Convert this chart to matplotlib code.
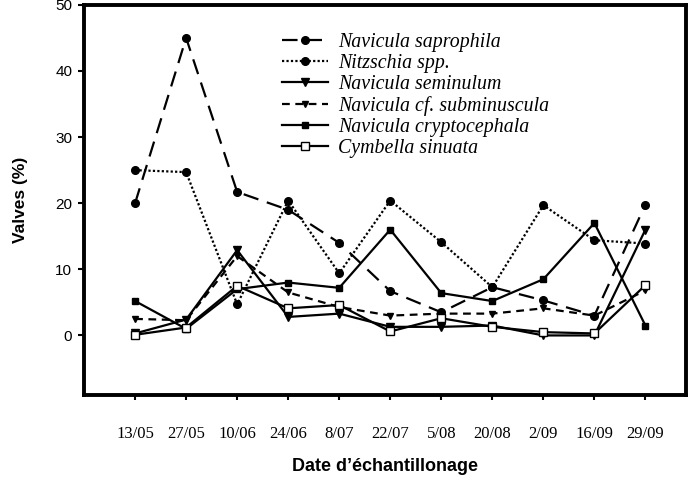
import matplotlib
matplotlib.use("Agg")
import matplotlib.pyplot as plt

# dates d'echantillonage
dates = ["13/05", "27/05", "10/06", "24/06", "8/07", "22/07",
         "5/08", "20/08", "2/09", "16/09", "29/09"]

# pourcentages de valves par espece
saprophila = [20, 45, 21.7, 19, 14, 6.7, 3.5, 7.3, 5.3, 3, 19.8]
nitzschia = [25, 24.7, 4.7, 20.4, 9.4, 20.4, 14.1, 7.3, 19.7, 14.4, 13.9]
seminulum = [0.3, 2.4, 12.9, 2.8, 3.3, 1.3, 1.3, 1.5, 0, 0, 16]
subminuscula = [2.5, 2.3, 12, 6.5, 4.3, 3, 3.3, 3.3, 4.1, 3, 6.8]
cryptocephala = [5.2, 1, 7, 8, 7.2, 16, 6.4, 5.2, 8.5, 17, 1.5]
cymbella = [0.1, 1.2, 7.5, 4.1, 4.6, 0.6, 2.6, 1.3, 0.5, 0.3, 7.6]

fig = plt.figure(figsize=(6.89, 4.84), dpi=100)
ax = fig.add_axes([0.122, 0.184, 0.874, 0.806])

x = range(len(dates))
lw = 1.6
ax.plot(x, saprophila, color='black', lw=lw, dashes=(7, 4), marker='o', ms=5.5,
        label='Navicula saprophila')
ax.plot(x, nitzschia, color='black', lw=lw, linestyle=(0, (1, 1)), marker='o', ms=5.5,
        label='Nitzschia spp.')
ax.plot(x, seminulum, color='black', lw=lw, marker='v', ms=6,
        label='Navicula seminulum')
ax.plot(x, subminuscula, color='black', lw=lw, dashes=(3.5, 2.5), marker='v', ms=5,
        label='Navicula cf. subminuscula')
ax.plot(x, cryptocephala, color='black', lw=lw, marker='s', ms=5,
        label='Navicula cryptocephala')
ax.plot(x, cymbella, color='black', lw=lw, marker='s', ms=6, mfc='white',
        label='Cymbella sinuata')

ax.set_xlim(-1, 10.8)
ax.set_ylim(-9, 50)
ax.set_yticks([0, 10, 20, 30, 40, 50])
ax.set_xticks(list(x))
ax.set_xticklabels(dates, family='Liberation Serif', fontsize=12)
for t in ax.get_yticklabels():
    t.set_family('Liberation Sans')
    t.set_fontsize(11)
ax.tick_params(axis='x', direction='out', length=3.5, width=1.5, pad=19)
ax.tick_params(axis='y', direction='out', length=4.5, width=1.5, pad=4)
for s in ax.spines.values():
    s.set_linewidth(2.8)

ax.set_ylabel('Valves (%)', family='Liberation Sans', fontweight='bold',
              fontsize=12.5, va='center')
ax.yaxis.set_label_coords(-64 / 602, 0.5)
ax.set_xlabel("Date d\u2019\u00e9chantillonage", family='Liberation Sans',
              fontweight='bold', fontsize=13, va='center')
ax.xaxis.set_label_coords(0.5, -72 / 390)

leg = ax.legend(loc='upper left', bbox_to_anchor=(0.329, 0.928), frameon=False,
                prop={'family': 'Liberation Serif', 'style': 'italic', 'size': 14.3},
                handlelength=2.3, handletextpad=0.5, labelspacing=0.1,
                borderpad=0, borderaxespad=0)

fig.savefig('out.png', dpi=100)
